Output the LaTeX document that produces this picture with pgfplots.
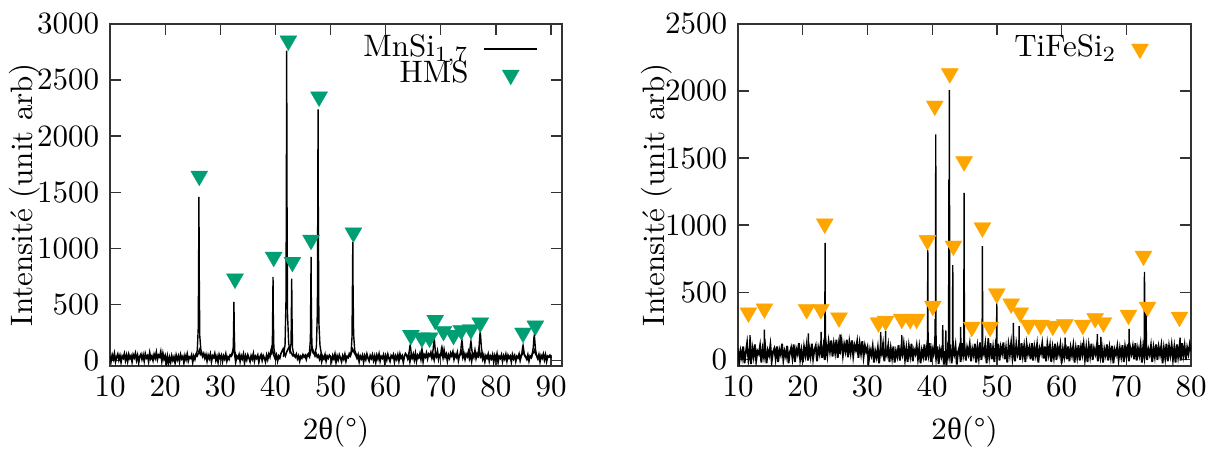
\documentclass[border=0pt]{standalone}
\usepackage{fontspec}
\newfontfamily\grk{Liberation Serif}
\usepackage{pgfplots}
\pgfplotsset{compat=1.18}
\definecolor{hmsgreen}{HTML}{009E73}
\definecolor{tforange}{HTML}{FFA500}
\pgfplotsset{gp/.style={
  scale only axis, height=110.30pt,
  ymin=-50,
  axis line style={black!80,line width=0.6pt},
  tick align=inside, tick pos=both, major tick length=3.5pt,
  every tick/.append style={black!80,line width=0.4pt},
  scaled y ticks=false,
  yticklabel style={/pgf/number format/1000 sep={}},
  ylabel={Intensité (unit arb)},
  xlabel={2{\grk θ}(°)},
  xlabel style={at={(axis description cs:0.5,-0.193)},anchor=center},
  unbounded coords=jump,
  legend plot pos=right, legend cell align=right,
  legend style={draw=none,fill=none,inner sep=0pt,outer sep=0pt,row sep=0pt,column sep=4.8pt,
    nodes={inner sep=0pt,text height=6.6pt,text depth=1.8pt}, anchor=north east},
}}
\begin{document}
\begin{tikzpicture}
\useasboundingbox (0,0) rectangle (390.2pt,145.1pt);
% ---------------- left panel ----------------
\begin{axis}[gp, at={(35.48pt,27.09pt)}, anchor=south west, width=145.77pt,
  xmin=10, xmax=92, ymax=3000, xtick={10,20,...,90}, ytick={0,500,...,3000},
  ylabel style={at={(axis description cs:-0.188,0.5)},anchor=center},
  legend style={at={(axis description cs:0.947,0.965)}}]
\addplot[black,line width=0.55pt] table[x expr=10+0.2*\coordindex, y index=0, header=false, row sep=\\] {
35\\-5\\48\\12\\60\\-10\\30\\55\\5\\42\\-15\\38\\20\\58\\0\\45\\-8\\52\\18\\40\\
-12\\50\\25\\62\\3\\44\\-20\\35\\55\\10\\48\\-5\\58\\22\\40\\-10\\65\\15\\38\\0\\
52\\20\\70\\8\\45\\30\\75\\-5\\60\\10\\40\\-25\\35\\-30\\25\\-15\\40\\0\\30\\-20\\
45\\5\\38\\-10\\50\\15\\35\\-20\\42\\8\\55\\-5\\30\\20\\48\\-15\\38\\10\\52\\40\\
60\\90\\55\\70\\35\\60\\20\\50\\-5\\45\\15\\55\\-10\\40\\25\\60\\0\\35\\-15\\50\\
20\\45\\-10\\38\\12\\55\\-5\\30\\10\\48\\40\\70\\110\\60\\-12\\35\\20\\50\\-8\\42\\
15\\55\\-20\\38\\5\\48\\22\\-10\\40\\12\\58\\-5\\35\\18\\45\\-15\\30\\50\\0\\42\\
20\\-12\\45\\8\\55\\30\\90\\120\\60\\35\\10\\45\\-5\\38\\20\\60\\80\\100\\60\\40\\
70\\90\\110\\100\\70\\55\\40\\45\\30\\55\\15\\40\\-5\\35\\20\\50\\30\\45\\10\\50\\
60\\35\\80\\120\\90\\70\\40\\60\\30\\45\\10\\40\\-10\\35\\15\\50\\-5\\38\\20\\45\\
30\\-8\\42\\15\\55\\-15\\38\\5\\48\\20\\-10\\40\\12\\52\\-5\\35\\25\\58\\40\\70\\
100\\80\\60\\45\\20\\50\\-10\\38\\15\\45\\-12\\40\\8\\55\\20\\-5\\42\\18\\50\\0\\
38\\-15\\45\\12\\55\\-5\\35\\20\\48\\-10\\40\\5\\52\\18\\-8\\42\\25\\50\\-12\\38\\
10\\48\\-5\\55\\20\\40\\-15\\35\\60\\45\\15\\50\\-10\\42\\20\\55\\5\\60\\-5\\45\\
25\\58\\10\\70\\-8\\50\\30\\65\\15\\55\\40\\70\\20\\48\\5\\60\\35\\80\\10\\50\\
45\\70\\25\\90\\30\\55\\-5\\48\\20\\65\\40\\75\\10\\52\\30\\68\\0\\45\\55\\80\\
25\\60\\10\\55\\35\\75\\15\\48\\-5\\58\\30\\85\\20\\60\\40\\90\\35\\55\\10\\45\\
-10\\40\\20\\55\\-5\\38\\15\\50\\-12\\42\\8\\55\\-15\\35\\18\\48\\-8\\40\\12\\52\\
-5\\45\\20\\38\\-12\\50\\15\\42\\-8\\35\\22\\55\\0\\40\\60\\80\\45\\30\\10\\48\\
-5\\38\\25\\55\\70\\90\\60\\40\\15\\50\\-10\\42\\20\\55\\5\\48\\-8\\38\\30\\45\\
20\\
};
\addlegendentry{MnSi$_{1{,}7}$}
\addplot[black,line width=0.45pt,forget plot] coordinates {
(25.53,30)(25.83,88)(26.01,292)(26.09,1021)(26.13,1458)(26.18,802)(26.28,219)(26.48,93)(26.83,30)(26.83,nan)
(31.88,30)(32.18,51)(32.36,104)(32.44,365)(32.48,521)(32.53,287)(32.63,78)(32.83,46)(33.18,30)(33.18,nan)
(38.97,30)(39.27,60)(39.45,149)(39.53,521)(39.57,744)(39.62,409)(39.72,112)(39.92,57)(40.27,30)(40.27,nan)
(41.45,30)(41.75,140)(41.93,552)(42.01,1933)(42.05,2762)(42.10,1519)(42.20,414)(42.40,158)(42.60,90)
(42.84,146)(42.92,510)(42.96,729)(43.01,401)(43.11,109)(43.31,56)(43.66,30)(43.66,nan)
(45.87,30)(46.17,67)(46.35,185)(46.43,646)(46.47,923)(46.52,508)(46.62,138)(46.82,66)
(47.14,50)(47.44,120)(47.62,448)(47.70,1567)(47.74,2238)(47.79,1231)(47.89,336)(48.09,132)(48.44,30)(48.44,nan)
(53.34,30)(53.74,72)(53.90,211)(53.99,740)(54.04,1057)(54.09,640)(54.19,230)(54.39,90)(54.84,30)(54.84,nan)
(63.95,25)(64.25,67)(64.38,121)(64.45,134)(64.52,114)(64.65,60)(64.95,25)(64.95,nan)
(66.07,25)(66.37,50)(66.50,90)(66.57,100)(66.64,85)(66.77,45)(67.07,25)(67.07,nan)
(68.31,25)(68.61,94)(68.74,169)(68.81,188)(68.88,160)(69.01,85)(69.31,25)(69.31,nan)
(69.70,25)(70.00,60)(70.13,108)(70.20,120)(70.27,102)(70.40,54)(70.70,25)(70.70,nan)
(73.34,25)(73.64,90)(73.77,161)(73.84,179)(73.91,152)(74.04,81)(74.34,25)(74.34,nan)
(74.97,25)(75.27,85)(75.40,153)(75.47,170)(75.54,145)(75.67,77)(75.97,25)(75.97,nan)
(76.66,25)(76.96,127)(77.09,228)(77.16,253)(77.23,215)(77.36,114)(77.66,25)(77.66,nan)
(84.42,25)(84.72,67)(84.85,121)(84.92,134)(84.99,114)(85.12,60)(85.42,25)(85.42,nan)
(86.47,25)(86.77,112)(86.90,201)(86.97,223)(87.04,190)(87.17,100)(87.47,25)
};
\addplot[only marks, mark=triangle*, mark size=3.17pt,
  mark options={rotate=180, fill=hmsgreen, draw=hmsgreen, line width=0.1pt}] coordinates {
(26.19,1644)(32.67,727)(39.69,921)(42.35,2850)(43.08,876)(46.47,1073)(47.92,2350)(54.15,1138)
(64.58,225)(66.57,201)(67.96,201)(68.99,359)(70.5,260)(72.31,225)(73.71,269)(75.47,275)(77.16,335)(84.92,245)(87.15,308)
};
\addlegendentry{HMS}
\end{axis}
% ---------------- right panel ----------------
\begin{axis}[gp, at={(238.0pt,27.09pt)}, anchor=south west, width=146.09pt,
  xmin=10, xmax=80, ymax=2500, xtick={10,20,...,80}, ytick={0,500,...,2500},
  ylabel style={at={(axis description cs:-0.179,0.5)},anchor=center},
  legend style={at={(axis description cs:0.906,0.965)}}]
\addplot[black,line width=0.6pt,forget plot] table[x expr=10+0.2*\coordindex, y index=0, header=false, row sep=\\] {
80\\-20\\60\\10\\95\\-30\\50\\120\\0\\70\\-35\\85\\20\\110\\-10\\60\\40\\100\\-25\\75\\
15\\90\\-30\\65\\30\\105\\-15\\55\\80\\5\\95\\-20\\70\\35\\115\\-5\\60\\20\\100\\-30\\
50\\85\\10\\110\\-20\\75\\40\\120\\0\\65\\-25\\90\\30\\105\\-10\\80\\20\\115\\5\\70\\
100\\-15\\85\\40\\125\\10\\95\\-5\\110\\30\\130\\60\\140\\20\\115\\50\\145\\10\\120\\70\\
135\\30\\110\\60\\145\\15\\125\\50\\140\\25\\105\\70\\130\\10\\115\\45\\135\\20\\100\\55\\
90\\-10\\70\\30\\95\\-25\\60\\15\\85\\-30\\75\\40\\110\\-15\\65\\30\\100\\-20\\80\\10\\
95\\-25\\60\\20\\105\\-10\\75\\35\\110\\0\\80\\-20\\95\\25\\115\\-15\\70\\40\\100\\5\\
85\\-30\\65\\20\\110\\-10\\90\\30\\120\\-20\\80\\40\\115\\10\\95\\-35\\70\\25\\105\\-40\\
60\\-45\\80\\20\\110\\-30\\70\\35\\100\\-40\\55\\90\\-20\\120\\30\\95\\-10\\85\\40\\110\\
-15\\75\\30\\115\\-25\\90\\10\\125\\-5\\80\\40\\110\\-30\\95\\20\\120\\0\\85\\-20\\100\\
30\\115\\-10\\90\\45\\125\\0\\80\\-25\\105\\35\\120\\10\\95\\-15\\110\\40\\85\\-5\\120\\
25\\95\\-20\\110\\40\\85\\0\\120\\-10\\90\\30\\105\\-25\\80\\45\\115\\5\\95\\-15\\110\\
35\\100\\-20\\85\\15\\115\\-5\\90\\40\\105\\-30\\75\\20\\110\\0\\95\\-15\\85\\30\\100\\
-25\\80\\15\\105\\-10\\90\\35\\110\\0\\85\\-20\\100\\25\\115\\-5\\80\\40\\95\\-15\\105\\
20\\90\\-25\\75\\30\\110\\-10\\85\\15\\100\\-30\\70\\35\\95\\-5\\80\\20\\105\\-20\\90\\
25\\110\\-15\\85\\40\\95\\0\\120\\-10\\80\\30\\105\\-25\\90\\15\\115\\-5\\75\\35\\100\\
-20\\85\\20\\110\\-5\\90\\35\\100\\-30\\80\\10\\115\\-15\\95\\30\\105\\0\\85\\-25\\110\\
20\\95\\-10\\120\\30\\100\\-5\\85\\40\\110\\
60\\
};
\addplot[black,line width=0.45pt,forget plot] coordinates {
(11.80,40)(11.85,179)(11.90,40)(11.90,nan)
(14.02,40)(14.07,221)(14.12,40)(14.12,nan)
(20.82,40)(20.87,192)(20.92,40)(20.92,nan)
(22.78,40)(22.83,204)(22.88,40)(22.88,nan)
(23.40,40)(23.45,868)(23.50,40)(23.50,nan)
(25.71,40)(25.76,186)(25.81,40)(25.81,nan)
(32.00,40)(32.05,204)(32.10,40)(32.10,nan)
(32.75,40)(32.80,211)(32.85,40)(32.85,nan)
(35.25,40)(35.30,179)(35.35,40)(35.35,nan)
(39.27,40)(39.32,813)(39.37,40)(39.37,nan)
(40.40,40)(40.45,300)(40.50,60)(40.55,1676)(40.60,40)(40.60,nan)
(41.58,40)(41.63,254)(41.68,40)(41.68,nan)
(42.05,40)(42.10,216)(42.15,40)(42.15,nan)
(42.53,40)(42.58,1340)(42.62,900)(42.66,2007)(42.71,40)(42.71,nan)
(43.13,40)(43.18,701)(43.23,40)(43.23,nan)
(44.35,40)(44.40,241)(44.45,40)(44.45,nan)
(44.88,40)(44.93,1241)(44.98,40)(44.98,nan)
(47.71,40)(47.76,843)(47.81,40)(47.81,nan)
(48.65,40)(48.70,157)(48.75,40)(48.75,nan)
(49.93,40)(49.98,416)(50.03,40)(50.03,nan)
(52.50,40)(52.55,271)(52.60,40)(52.60,nan)
(53.38,40)(53.43,246)(53.48,40)(53.48,nan)
(60.49,40)(60.54,162)(60.59,40)(60.59,nan)
(63.22,40)(63.27,122)(63.32,40)(63.32,nan)
(65.48,40)(65.53,187)(65.58,40)(65.58,nan)
(66.01,40)(66.06,166)(66.11,40)(66.11,nan)
(70.38,40)(70.43,226)(70.48,40)(70.48,nan)
(72.75,40)(72.80,651)(72.90,80)(73.06,366)(73.11,40)(73.11,nan)
(78.25,40)(78.30,162)(78.35,40)
};
\addplot[only marks, mark=triangle*, mark size=3.17pt,
  mark options={rotate=180, fill=tforange, draw=tforange, line width=0.1pt}] coordinates {
(11.6,347)(14.07,377)(20.6,372)(22.8,372)(23.4,1010)(25.6,310)(31.7,273)(32.8,285)(35.3,300)(36.6,297)(37.6,300)
(39.26,887)(40.1,397)(40.4,1889)(42.72,2130)(43.28,845)(44.93,1474)(46.12,240)(47.76,981)(48.95,240)(49.98,489)
(52.2,414)(53.6,347)(54.87,255)(56.78,255)(58.64,248)(60.5,260)(63.27,255)(65.18,305)(66.46,273)(70.33,330)
(72.65,770)(73.27,390)(78.21,315)
};
\addlegendentry{TiFeSi$_2$}
\end{axis}
\end{tikzpicture}
\end{document}
